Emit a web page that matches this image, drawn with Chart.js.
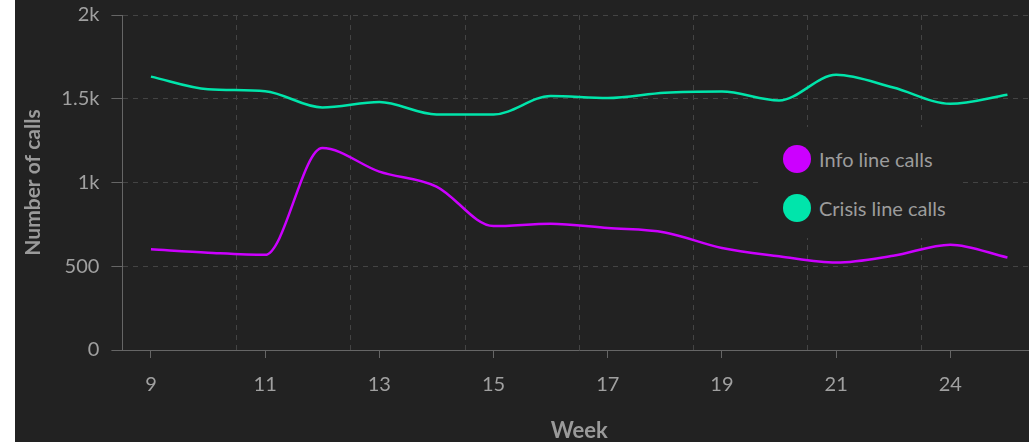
<!DOCTYPE html>
<html>
<head>
<meta charset="utf-8">
<title>Weekly calls</title>
<script src="https://cdn.jsdelivr.net/npm/chart.js@4.4.0/dist/chart.umd.min.js"></script>
<style>
html, body { margin: 0; padding: 0; background: #fff; overflow: hidden; }
body { width: 1029px; height: 442px; position: relative; font-family: Lato, sans-serif; }
#panel { position: absolute; left: 15px; top: 0; width: 1040px; height: 442px; background: #222; }
#chart { display: block; }
#legend { position: absolute; left: 743px; top: 127px; width: 204px; height: 111px; background: #222; padding-top: 18px; box-sizing: border-box; }
#legend .item { display: flex; align-items: center; height: 28px; margin-bottom: 21px; padding-left: 25px; }
#legend .dot { width: 28px; height: 28px; border-radius: 50%; }
#legend .txt { margin-left: 8px; font-size: 20px; color: #9c9c9c; line-height: 28px; }
</style>
</head>
<body>
<div id="panel">
  <canvas id="chart" width="1040" height="442"></canvas>
  <div id="legend"></div>
</div>
<script>
// data
var weeks = [9, 10, 11, 12, 13, 14, 15, 16, 17, 18, 19, 20, 21, 23, 24, 25];
var infoCalls = [601, 581, 568, 1206, 1065, 976, 740, 754, 728, 702, 609, 560, 522, 563, 629, 552];
var crisisCalls = [1632, 1557, 1545, 1448, 1480, 1406, 1406, 1516, 1504, 1536, 1543, 1490, 1643, 1567, 1470, 1524];
var seriesNames = ["Info line calls", "Crisis line calls"];
var seriesColors = ["#cc00ff", "#00e5ab"];
var yTicks = [0, 500, 1000, 1500, 2000];
var yTickLabels = ["0", "500", "1k", "1.5k", "2k"];

var textColor = "#a0a0a0";
var titleColor = "#9a9a9a";
var axisColor = "#666";
var gridColor = "#444";

Chart.defaults.font.family = "Lato, sans-serif";
Chart.defaults.font.size = 20;
Chart.defaults.color = textColor;

var ctx = document.getElementById("chart").getContext("2d");
var myChart = new Chart(ctx, {
	type: 'line',
	data: {
		labels: weeks,
		datasets: [
			{
				label: seriesNames[0],
				data: infoCalls,
				borderColor: seriesColors[0],
				borderWidth: 2.5,
				pointRadius: 0,
				cubicInterpolationMode: 'monotone'
			},
			{
				label: seriesNames[1],
				data: crisisCalls,
				borderColor: seriesColors[1],
				borderWidth: 2.5,
				pointRadius: 0,
				cubicInterpolationMode: 'monotone'
			}
		]
	},
	options: {
		responsive: false,
		animation: false,
		devicePixelRatio: 1,
		events: [],
		layout: {
			padding: { left: 2, top: 15, right: 19, bottom: 0 }
		},
		plugins: {
			legend: { display: false },
			tooltip: { enabled: false }
		},
		scales: {
			x: {
				type: 'category',
				offset: true,
				grid: {
					offset: false,
					drawOnChartArea: false,
					tickLength: 8,
					tickColor: function(c) {
						return c.index % 2 === 0 ? axisColor : 'transparent';
					}
				},
				border: { color: axisColor },
				ticks: {
					autoSkip: false,
					maxRotation: 0,
					padding: 15,
					color: textColor,
					callback: function(value, index) {
						return index % 2 === 0 ? weeks[index] : '';
					}
				},
				title: {
					display: true,
					text: 'Week',
					color: titleColor,
					font: { size: 22, weight: 'bold', lineHeight: 1.05 },
					padding: { top: 0, bottom: 0 }
				},
				afterFit: function(scale) {
					scale.height = 92;
				}
			},
			// only used for the dashed vertical grid between labels
			x2: {
				type: 'category',
				position: 'top',
				offset: true,
				grid: {
					offset: true,
					drawTicks: false,
					color: function(c) {
						return (c.index % 2 === 0 && c.index > 0 && c.index < weeks.length) ? gridColor : 'transparent';
					}
				},
				border: { display: false, dash: [5, 5] },
				ticks: { display: false }
			},
			y: {
				min: 0,
				max: 2000,
				afterBuildTicks: function(scale) {
					scale.ticks = yTicks.map(function(v) { return { value: v }; });
				},
				grid: {
					color: gridColor,
					tickColor: axisColor,
					tickLength: 11
				},
				border: { color: axisColor, dash: [5, 5] },
				ticks: {
					padding: 12,
					color: textColor,
					callback: function(value) {
						return yTickLabels[yTicks.indexOf(value)];
					}
				},
				title: {
					display: true,
					text: 'Number of calls',
					color: titleColor,
					font: { size: 21, weight: 'bold' }
				},
				afterFit: function(scale) {
					scale.width = 105.4;
					// don't let label overhang push the plot down
					scale.paddingTop = 0;
					scale.paddingBottom = 0;
				}
			}
		}
	}
});

// legend on top of the plot
var legend = document.getElementById("legend");
for (var k = 0; k < seriesNames.length; k++) {
	var item = document.createElement("div");
	item.className = "item";
	item.innerHTML = '<div class="dot" style="background:' + seriesColors[k] + '"></div><span class="txt">' + seriesNames[k] + '</span>';
	legend.appendChild(item);
}
</script>
</body>
</html>
